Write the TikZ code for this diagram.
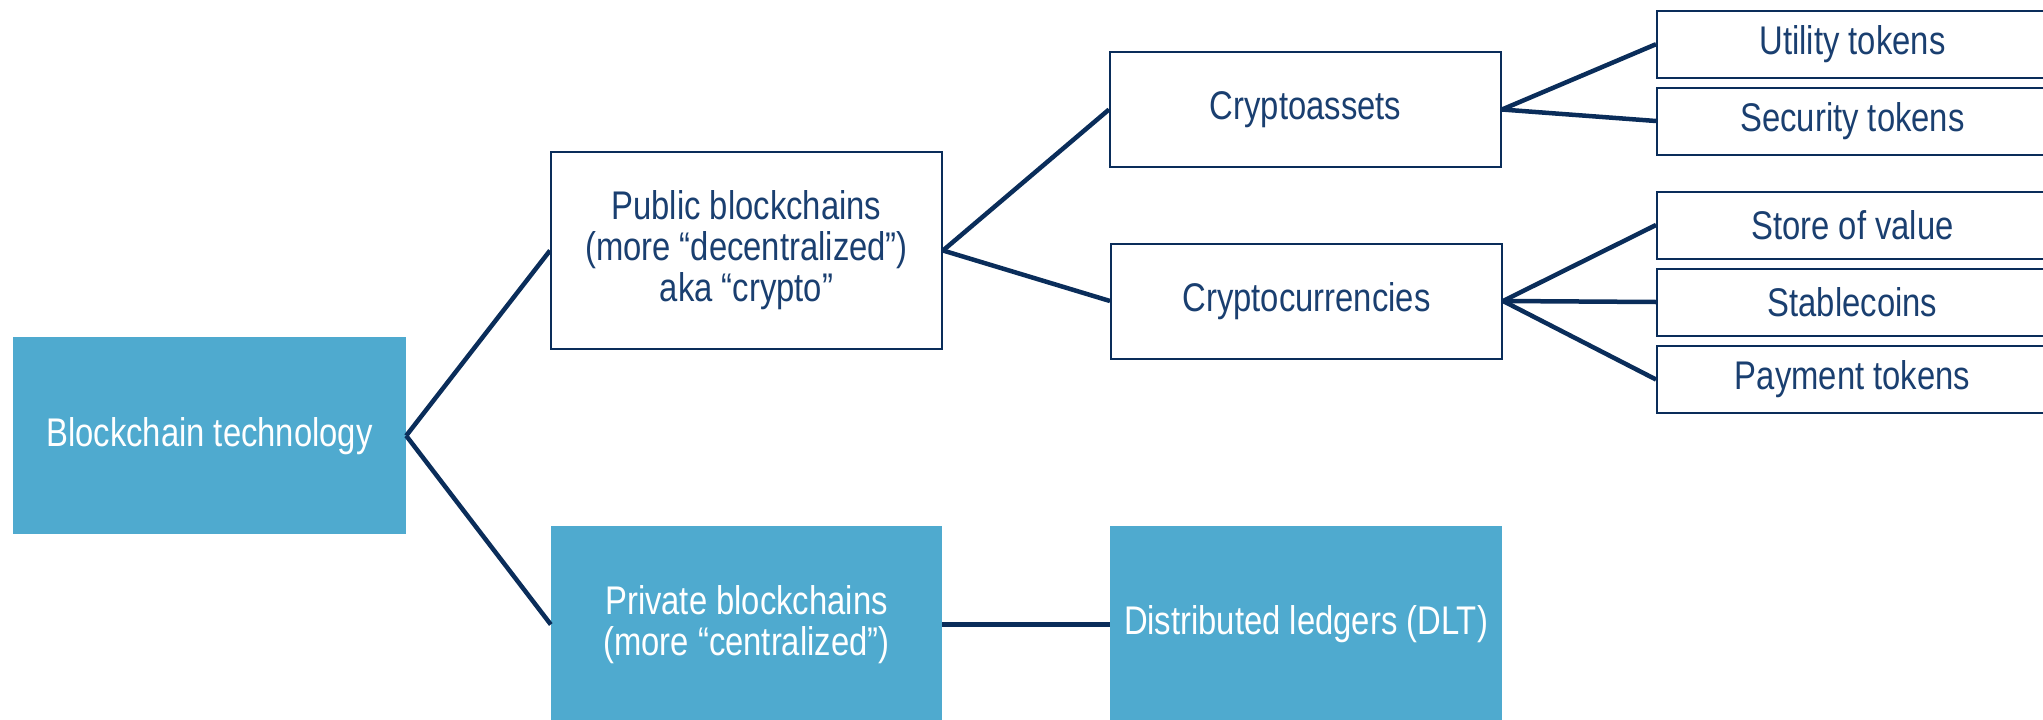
\documentclass[tikz,border=0pt]{standalone}
\usepackage{fontspec}
\setmainfont{Liberation Sans}[FakeStretch=0.82]
\definecolor{fillblue}{HTML}{4FAACF}
\definecolor{navy}{HTML}{0A2D5A}
\definecolor{txtblue}{HTML}{1A3F70}
\begin{document}
\begin{tikzpicture}[x=1pt,y=-1pt,
  base/.style={rectangle, inner sep=0pt, align=center, font=\fontsize{40}{41}\selectfont},
  bluebox/.style={base, fill=fillblue, text=white},
  whitebox/.style={base, draw=navy, line width=2pt, fill=white, text=txtblue},
  conn/.style={draw=navy, line width=4.5pt}]
\useasboundingbox (0,0) rectangle (2043,720);
\clip (0,0) rectangle (2043,720);
\node[bluebox, minimum width=393pt, minimum height=197pt] (bt) at (209.5,435.7) {Blockchain technology};
\node[whitebox, minimum width=391pt, minimum height=197pt] (pub) at (746.5,250.5) {Public blockchains\\(more “decentralized”)\\aka “crypto”};
\node[bluebox, minimum width=391pt, minimum height=197pt] (priv) at (746.5,624.5) {Private blockchains\\(more “centralized”)};
\node[whitebox, minimum width=391pt, minimum height=115pt] (ca) at (1305.5,109.5) {Cryptoassets};
\node[whitebox, minimum width=391pt, minimum height=115pt] (cc) at (1306.5,301) {Cryptocurrencies};
\node[bluebox, minimum width=392pt, minimum height=197pt] (dlt) at (1306,624.5) {Distributed ledgers (DLT)};
\node[whitebox, minimum width=391pt, minimum height=67pt] (ut) at (1852.5,44.2) {Utility tokens};
\node[whitebox, minimum width=391pt, minimum height=67pt] (st) at (1852.5,121) {Security tokens};
\node[whitebox, minimum width=391pt, minimum height=67pt] (sv) at (1852.5,225) {Store of value};
\node[whitebox, minimum width=391pt, minimum height=67pt] (sc) at (1852.5,302) {Stablecoins};
\node[whitebox, minimum width=391pt, minimum height=67pt] (pt) at (1852.5,379.5) {Payment tokens};
\draw[conn] (bt.east) -- (pub.west);
\draw[conn] (bt.east) -- (priv.west);
\draw[conn] (pub.east) -- (ca.west);
\draw[conn] (pub.east) -- (cc.west);
\draw[conn] (priv.east) -- (dlt.west);
\draw[conn] (ca.east) -- (ut.west);
\draw[conn] (ca.east) -- (st.west);
\draw[conn] (cc.east) -- (sv.west);
\draw[conn] (cc.east) -- (sc.west);
\draw[conn] (cc.east) -- (pt.west);
\end{tikzpicture}
\end{document}
